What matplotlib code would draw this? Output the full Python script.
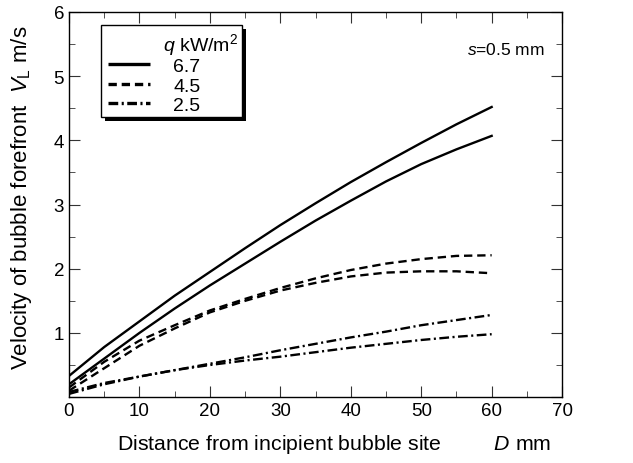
import matplotlib
matplotlib.use('Agg')
import matplotlib.pyplot as plt
import matplotlib.transforms as mtransforms
from matplotlib.ticker import MultipleLocator
from matplotlib.patches import Rectangle

plt.rcParams['font.family'] = ['Liberation Sans', 'DejaVu Sans']
plt.rcParams['mathtext.fontset'] = 'custom'
plt.rcParams['mathtext.rm'] = 'Liberation Sans'
plt.rcParams['mathtext.it'] = 'Liberation Sans:italic'
plt.rcParams['lines.scale_dashes'] = False

# data
D = [0, 5, 10, 15, 20, 25, 30, 35, 40, 45, 50, 55, 60]
v67_a = [0.33, 0.78, 1.18, 1.58, 1.95, 2.32, 2.68, 3.02, 3.35, 3.66, 3.96, 4.25, 4.52]
v67_b = [0.20, 0.60, 1.00, 1.38, 1.74, 2.08, 2.42, 2.75, 3.06, 3.36, 3.63, 3.86, 4.07]
v45_a = [0.15, 0.55, 0.88, 1.12, 1.35, 1.53, 1.70, 1.85, 1.98, 2.08, 2.15, 2.20, 2.21]
v45_b = [0.10, 0.45, 0.80, 1.07, 1.32, 1.50, 1.66, 1.78, 1.88, 1.94, 1.96, 1.96, 1.93]
v25_a = [0.08, 0.22, 0.32, 0.42, 0.52, 0.62, 0.73, 0.83, 0.93, 1.02, 1.12, 1.20, 1.28]
v25_b = [0.05, 0.20, 0.32, 0.42, 0.50, 0.57, 0.63, 0.70, 0.77, 0.83, 0.89, 0.94, 0.98]
q_labels = ['6.7', '4.5', '2.5']

fig = plt.figure(figsize=(6.33, 4.64), dpi=100)
ax = fig.add_axes([0.109, 0.142, 0.779, 0.830])

solid = '-'
dashed = (0, (6, 3.5))
dashdot = (0, (7, 2.5, 1.5, 2.5))
styles = [solid, dashed, dashdot]

ax.plot(D, v67_a, color='k', lw=1.7, ls=solid)
ax.plot(D, v67_b, color='k', lw=1.7, ls=solid)
ax.plot(D, v45_a, color='k', lw=1.7, ls=dashed)
ax.plot(D, v45_b, color='k', lw=1.7, ls=dashed)
ax.plot(D, v25_a, color='k', lw=1.7, ls=dashdot)
ax.plot(D, v25_b, color='k', lw=1.7, ls=dashdot)

ax.set_xlim(0, 70)
ax.set_ylim(0, 6)
ax.xaxis.set_major_locator(MultipleLocator(10))
ax.xaxis.set_minor_locator(MultipleLocator(5))
ax.yaxis.set_minor_locator(MultipleLocator(0.5))
ax.set_yticks([0, 1, 2, 3, 4, 5, 6])
ax.set_yticklabels(['', '1', '2', '3', '4', '5', '6'])
ax.tick_params(which='both', direction='in', top=True, right=True,
               labelsize=13.5, color='#333333')
ax.tick_params(which='major', length=8, pad=3.5)
ax.tick_params(which='minor', length=4.5)
for sp in ax.spines.values():
    sp.set_linewidth(1.0)

fig.canvas.draw()
# shared origin "0" sits a little left of the corner
lab0 = ax.get_xticklabels()[0]
lab0.set_transform(lab0.get_transform() +
                   mtransforms.ScaledTranslation(-7 / 100, 0, fig.dpi_scale_trans))

ax.set_xlabel(r'Distance from incipient bubble site         $D$ mm', fontsize=15.3)
ax.xaxis.set_label_coords(0.537, -0.135)
ax.xaxis.label.set_va('baseline')
ax.set_ylabel(r'Velocity of bubble forefront  $V_\mathrm{L}$ m/s', fontsize=16)
ax.yaxis.set_label_coords(-0.071, 0.52)

ax.text(67.5, 5.42, r'$s$=0.5 mm', fontsize=12.5, ha='right', va='center')

# legend box with hard black shadow
bx, by, bw, bh = 0.065, 0.727, 0.286, 0.239
shadow_tr = mtransforms.offset_copy(ax.transAxes, fig, x=3.5, y=-3.5, units='dots')
ax.add_patch(Rectangle((bx, by), bw, bh, transform=shadow_tr, fc='k', ec='k',
                       lw=0, zorder=5))
ax.add_patch(Rectangle((bx, by), bw, bh, transform=ax.transAxes, fc='white',
                       ec='k', lw=1.0, zorder=6))
ax.text(0.343, 0.901, r'$q$ kW/m$^2$', transform=ax.transAxes, fontsize=14,
        ha='right', va='baseline', zorder=7)
row_base = [0.847, 0.795, 0.745]
for lab, st, yb in zip(q_labels, styles, row_base):
    ax.plot([0.079, 0.164], [yb + 0.018, yb + 0.018], transform=ax.transAxes,
            color='k', lw=2.4, ls=st, zorder=7, solid_capstyle='butt',
            dash_capstyle='butt')
    ax.text(0.211, yb, lab, transform=ax.transAxes, fontsize=14,
            ha='left', va='baseline', zorder=7)

fig.savefig('out.png', dpi=100)
